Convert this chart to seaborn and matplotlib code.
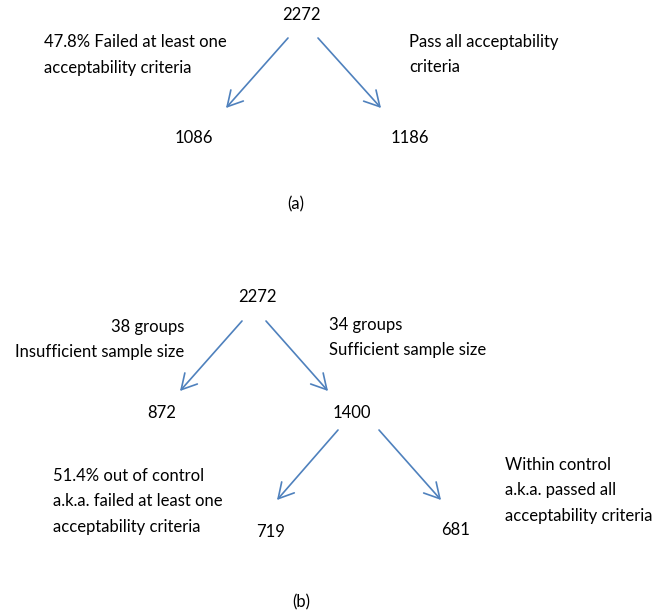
import matplotlib
matplotlib.use("Agg")
import matplotlib.pyplot as plt
import seaborn as sns

# Node counts for the two flow diagrams
node_values = ["2272", "1086", "1186", "2272", "872", "1400", "719", "681"]
# Node positions in pixel space (x, y)
node_x = [301, 194, 410, 257, 162, 352, 271, 456]
node_y = [15, 138, 138, 297, 413, 413, 532, 530]

# Arrows between nodes: (start x, start y, end x, end y)
arrows = [
    (288, 38, 226, 108),
    (318, 38, 381, 108),
    (242, 321, 180, 391),
    (266, 321, 328, 391),
    (338, 430, 277, 500),
    (379, 430, 441, 500),
]

# Branch descriptions
branch_texts = [
    "47.8% Failed at least one\nacceptability criteria",
    "Pass all acceptability\ncriteria",
    "38 groups\nInsufficient sample size",
    "34 groups\nSufficient sample size",
    "51.4% out of control\na.k.a. failed at least one\nacceptability criteria",
    "Within control\na.k.a. passed all\nacceptability criteria",
]
branch_x = [44, 409, 184, 329, 53, 505]
branch_y = [42, 42, 327, 325, 476, 465]
branch_ha = ["left", "left", "right", "left", "left", "left"]
LINE_STEP = 25.5

panel_labels = ["(a)", "(b)"]
panel_x = [296, 301]
panel_y = [204, 602]

ARROW_COLOR = "#4F81BD"
FS = 12

sns.set_theme(style="white")
plt.rcParams["font.family"] = ["Lato", "DejaVu Sans"]

fig = plt.figure(figsize=(6.68, 6.14), dpi=100)
ax = fig.add_axes([0, 0, 1, 1])
ax.set_xlim(0, 668)
ax.set_ylim(614, 0)
ax.axis("off")

for val, x, y in zip(node_values, node_x, node_y):
    ax.text(x, y, val, ha="center", va="center", fontsize=FS, color="black")

for x0, y0, x1, y1 in arrows:
    ax.annotate("", xy=(x1, y1), xytext=(x0, y0),
                arrowprops=dict(arrowstyle="->,head_length=0.9,head_width=0.5",
                                color=ARROW_COLOR, lw=1.2,
                                shrinkA=0, shrinkB=0))

# one text per line so the line spacing matches the original
for txt, x, y, ha in zip(branch_texts, branch_x, branch_y, branch_ha):
    for i, line in enumerate(txt.split("\n")):
        ax.text(x, y + i * LINE_STEP, line, ha=ha, va="center",
                fontsize=FS, color="black")

for lab, x, y in zip(panel_labels, panel_x, panel_y):
    ax.text(x, y, lab, ha="center", va="center", fontsize=FS, color="black")

fig.savefig("out.png", dpi=100)
